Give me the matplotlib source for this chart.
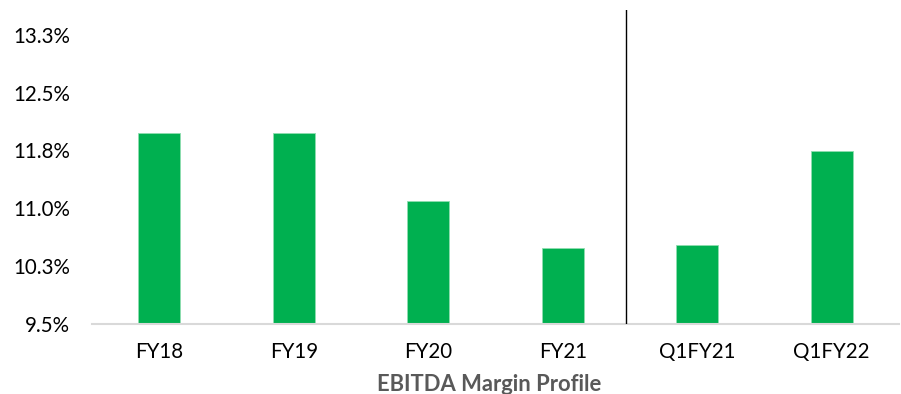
import matplotlib.pyplot as plt
from decimal import Decimal, ROUND_HALF_UP
from matplotlib.ticker import FuncFormatter

# EBITDA margin (%) by period
periods = ["FY18", "FY19", "FY20", "FY21", "Q1FY21", "Q1FY22"]
margin = [11.97, 11.98, 11.10, 10.49, 10.53, 11.74]
y_ticks = [9.5, 10.25, 11.0, 11.75, 12.5, 13.25]

plt.rcParams["font.family"] = ["Lato", "DejaVu Sans"]


def pct(v, _pos=None):
    # round half up, like a spreadsheet would
    d = Decimal(str(round(v, 4))).quantize(Decimal("0.1"), rounding=ROUND_HALF_UP)
    return f"{d}%"


fig = plt.figure(figsize=(9.01, 3.94), dpi=100)
ax = fig.add_axes([92 / 901, 1 - 324 / 394, 807 / 901, 314 / 394])

x = range(len(periods))
ax.bar(x, margin, width=0.31, bottom=0, color="#00B050",
       edgecolor="#8FDDB0", linewidth=0.6, zorder=2)

ax.set_xlim(-0.5, len(periods) - 0.5)
ax.set_ylim(9.5, 13.57)
ax.set_yticks(y_ticks)
ax.yaxis.set_major_formatter(FuncFormatter(pct))
ax.set_xticks(list(x))
ax.set_xticklabels(periods)
ax.tick_params(axis="both", length=0, labelsize=14.8, colors="#000000")
ax.tick_params(axis="x", pad=13)
ax.tick_params(axis="y", pad=16)

for side in ["top", "right", "left"]:
    ax.spines[side].set_visible(False)
ax.spines["bottom"].set_color("#D9D9D9")
ax.spines["bottom"].set_linewidth(1.5)

# divider between annual and quarterly figures
ax.axvline(3.47, ymin=0, ymax=1, color="#000000", linewidth=1.0, zorder=3)

fig.text(0.543, 1 - 374 / 394, "EBITDA Margin Profile", ha="center", va="top",
         fontsize=15.8, fontweight="bold", color="#595959")

fig.savefig("out.png", dpi=100)
